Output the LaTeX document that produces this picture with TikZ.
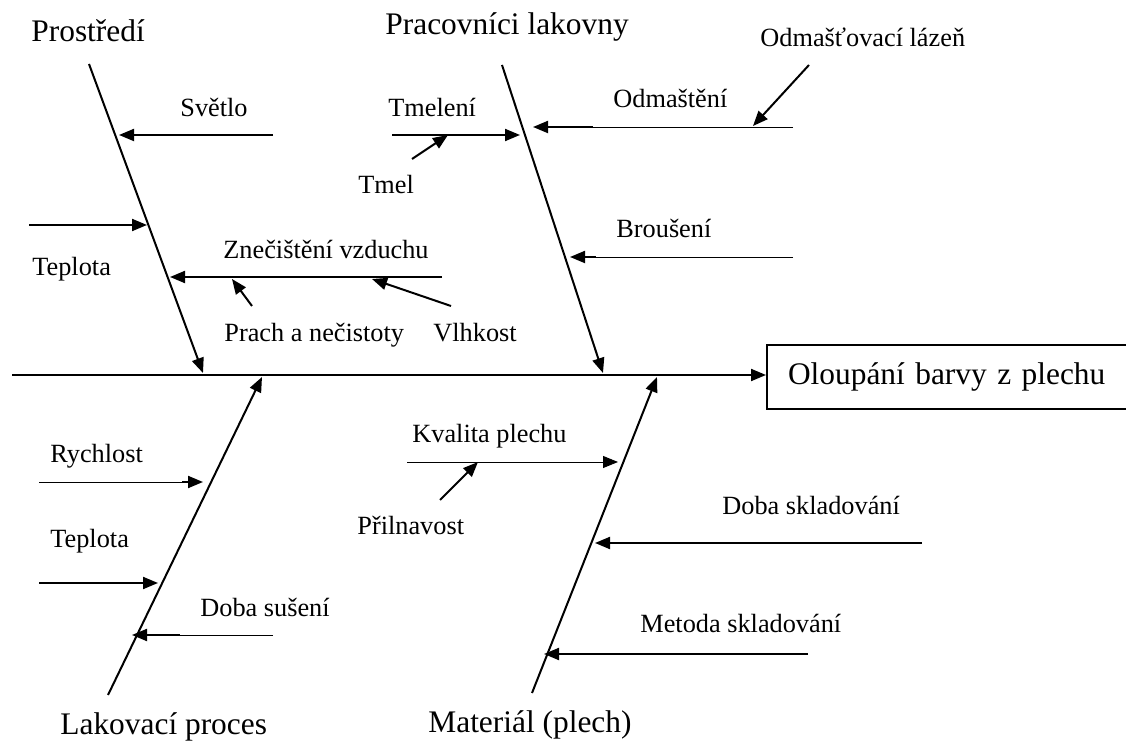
\documentclass[tikz,border=0pt]{standalone}
\usepackage{fontspec}
\setmainfont{Liberation Serif}
\usetikzlibrary{arrows.meta}

\begin{document}
\begin{tikzpicture}[x=0.5pt, y=-0.5pt,
    cause/.style={font=\fontsize{15.7}{18}\selectfont, inner sep=0pt, anchor=base west},
    factor/.style={font=\fontsize{13.15}{16}\selectfont, inner sep=0pt, anchor=base west},
    bone/.style={line width=1pt, -{Triangle[length=7.5pt,width=6pt]}},
    thinrib/.style={line width=0.45pt},
    effectbox/.style={draw, line width=1pt, anchor=west, minimum height=32pt,
        text width=166pt, align=left, inner xsep=10.5pt,
        font=\fontsize{15.7}{18}\selectfont}]
    \useasboundingbox (0,0) rectangle (1126,742);

    % spine and effect
    \node[effectbox] (effect) at (766,377) {Oloupání barvy z plechu};
    \coordinate (spine_start) at (12,375);
    \draw[bone] (spine_start) -- (spine_start -| effect.west);

    % main bones
    \node[cause] (prostredi) at (31,42) {Prostředí};
    \coordinate (prostredi_top) at (89,64);
    \coordinate (prostredi_tip) at (203,373);
    \draw[bone] (prostredi_top) -- (prostredi_tip);

    \node[cause] (pracovnici) at (385,35) {Pracovníci lakovny};
    \coordinate (pracovnici_top) at (502,65);
    \coordinate (pracovnici_tip) at (603,373);
    \draw[bone] (pracovnici_top) -- (pracovnici_tip);

    \node[cause] (lakovani) at (60,735) {Lakovací proces};
    \coordinate (lakovani_bottom) at (108,695);
    \coordinate (lakovani_tip) at (262,377);
    \draw[bone] (lakovani_bottom) -- (lakovani_tip);

    \node[cause] (material) at (428,733) {Materiál (plech)};
    \coordinate (material_bottom) at (532,693);
    \coordinate (material_tip) at (657,377);
    \draw[bone] (material_bottom) -- (material_tip);

    % Prostredi
    \node[factor] (svetlo) at (180,117) {Světlo};
    \coordinate (svetlo_end) at (273,135);
    \coordinate (svetlo_tip) at (119,135);
    \draw[bone] (svetlo_end) -- (svetlo_tip);

    \node[factor] (teplota_top) at (32,276) {Teplota};
    \coordinate (teplota_top_end) at (29,225);
    \coordinate (teplota_top_tip) at (147,225);
    \draw[bone] (teplota_top_end) -- (teplota_top_tip);

    \node[factor] (znecisteni) at (223,259) {Znečištění vzduchu};
    \coordinate (znecisteni_end) at (442,277);
    \coordinate (znecisteni_tip) at (170,277);
    \draw[bone] (znecisteni_end) -- (znecisteni_tip);

    \node[factor] (prach) at (224,342) {Prach a nečistoty};
    \coordinate (prach_end) at (252,306);
    \coordinate (prach_tip) at (232,279);
    \draw[bone] (prach_end) -- (prach_tip);

    \node[factor] (vlhkost) at (433,342) {Vlhkost};
    \coordinate (vlhkost_end) at (451,306);
    \coordinate (vlhkost_tip) at (372,279);
    \draw[bone] (vlhkost_end) -- (vlhkost_tip);

    % Pracovnici lakovny
    \node[factor] (tmeleni) at (388,117) {Tmelení};
    \coordinate (tmeleni_end) at (392,135);
    \coordinate (tmeleni_tip) at (520,135);
    \draw[bone] (tmeleni_end) -- (tmeleni_tip);

    \node[factor] (tmel) at (358,194) {Tmel};
    \coordinate (tmel_end) at (412,159);
    \coordinate (tmel_tip) at (448,135);
    \draw[bone] (tmel_end) -- (tmel_tip);

    \node[factor] (odmasteni) at (613,108) {Odmaštění};
    \coordinate (odmasteni_end) at (793,127);
    \coordinate (odmasteni_stub) at (593,127);
    \coordinate (odmasteni_tip) at (533,127);
    \draw[thinrib] (odmasteni_end) -- (odmasteni_stub);
    \draw[bone] (odmasteni_stub) -- (odmasteni_tip);

    \node[factor] (lazen) at (760,47) {Odmašťovací lázeň};
    \coordinate (lazen_end) at (809,65);
    \coordinate (lazen_tip) at (753,126);
    \draw[bone] (lazen_end) -- (lazen_tip);

    \node[factor] (brouseni) at (616,238) {Broušení};
    \coordinate (brouseni_end) at (793,257);
    \coordinate (brouseni_stub) at (596,257);
    \coordinate (brouseni_tip) at (570,257);
    \draw[thinrib] (brouseni_end) -- (brouseni_stub);
    \draw[bone] (brouseni_stub) -- (brouseni_tip);

    % Lakovaci proces
    \node[factor] (rychlost) at (50,463) {Rychlost};
    \coordinate (rychlost_end) at (39,482);
    \coordinate (rychlost_stub) at (182,482);
    \coordinate (rychlost_tip) at (203,482);
    \draw[thinrib] (rychlost_end) -- (rychlost_stub);
    \draw[bone] (rychlost_stub) -- (rychlost_tip);

    \node[factor] (teplota_bottom) at (50,548) {Teplota};
    \coordinate (teplota_bottom_end) at (39,583);
    \coordinate (teplota_bottom_tip) at (158,583);
    \draw[bone] (teplota_bottom_end) -- (teplota_bottom_tip);

    \node[factor] (suseni) at (200,617) {Doba sušení};
    \coordinate (suseni_end) at (273,635);
    \coordinate (suseni_stub) at (180,635);
    \coordinate (suseni_tip) at (132,635);
    \draw[thinrib] (suseni_end) -- (suseni_stub);
    \draw[bone] (suseni_stub) -- (suseni_tip);

    % Material
    \node[factor] (kvalita) at (412,443) {Kvalita plechu};
    \coordinate (kvalita_end) at (407,462);
    \coordinate (kvalita_tip) at (618,462);
    \draw[thinrib, -{Triangle[length=7.5pt,width=6pt]}] (kvalita_end) -- (kvalita_tip);

    \node[factor] (prilnavost) at (357,535) {Přilnavost};
    \coordinate (prilnavost_end) at (440,500);
    \coordinate (prilnavost_tip) at (478,462);
    \draw[bone] (prilnavost_end) -- (prilnavost_tip);

    \node[factor] (doba_skladovani) at (722,515) {Doba skladování};
    \coordinate (doba_skladovani_end) at (922,543);
    \coordinate (doba_skladovani_tip) at (595,543);
    \draw[bone] (doba_skladovani_end) -- (doba_skladovani_tip);

    \node[factor] (metoda_skladovani) at (640,633) {Metoda skladování};
    \coordinate (metoda_skladovani_end) at (808,654);
    \coordinate (metoda_skladovani_tip) at (544,654);
    \draw[bone] (metoda_skladovani_end) -- (metoda_skladovani_tip);
\end{tikzpicture}
\end{document}
